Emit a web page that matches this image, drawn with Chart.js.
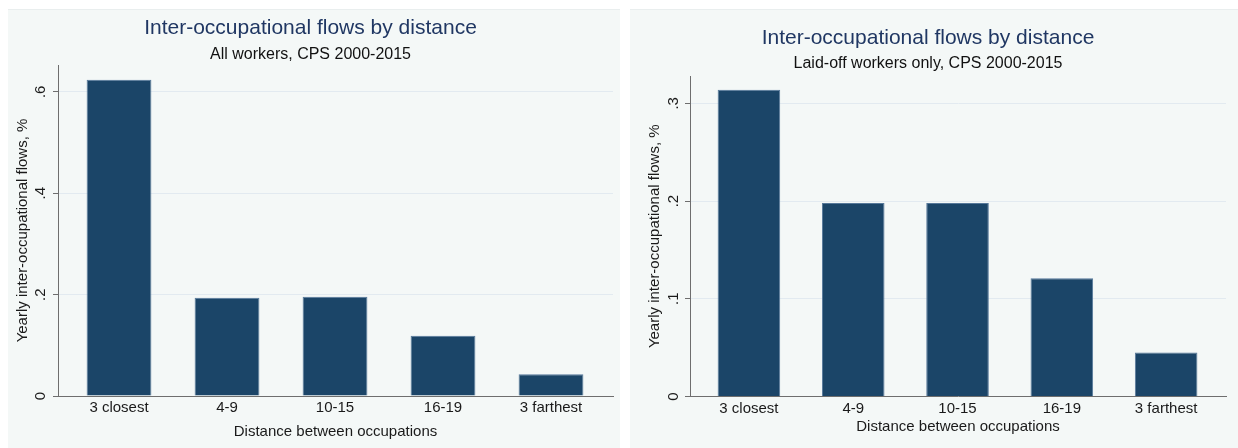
<!DOCTYPE html>
<html>
<head>
<meta charset="utf-8">
<script src="https://cdn.jsdelivr.net/npm/chart.js@4"></script>
<style>
  html, body { margin: 0; padding: 0; background: #ffffff; }
  body { width: 1238px; height: 448px; position: relative; overflow: hidden; }
  .panel { position: absolute; top: 9px; height: 439px; background: #f4f8f7; border-top: 1px solid #e9eeee; box-sizing: border-box; }
  #p1 { left: 8px; width: 612px; }
  #p2 { left: 630px; width: 608px; }
  canvas { display: block; }
</style>
</head>
<body>
<div class="panel" id="p1"><canvas id="c1"></canvas></div>
<div class="panel" id="p2"><canvas id="c2"></canvas></div>
<script>
// ---- data ----
const categories = ['3 closest', '4-9', '10-15', '16-19', '3 farthest'];
const allWorkers = [0.624, 0.194, 0.196, 0.119, 0.043];
const laidOff = [0.314, 0.198, 0.198, 0.121, 0.045];
const leftYTicks = [0, 0.2, 0.4, 0.6];
const leftYTickLabels = ['0', '.2', '.4', '.6'];
const rightYTicks = [0, 0.1, 0.2, 0.3];
const rightYTickLabels = ['0', '.1', '.2', '.3'];
const mainTitle = 'Inter-occupational flows by distance';
const leftSubtitle = 'All workers, CPS 2000-2015';
const rightSubtitle = 'Laid-off workers only, CPS 2000-2015';
const yTitle = 'Yearly inter-occupational flows, %';
const xTitle = 'Distance between occupations';

const FONT = "'Liberation Sans', Arial, Helvetica, sans-serif";
const BAR = '#1b4568';
const BAR_EDGE = '#56789a';
const GRID = '#e2eaf0';
const AXIS = '#6e6e6e';

const rotTicks = {
  id: 'rotTicks',
  afterDraw(chart, args, opts) {
    const s = chart.scales.y;
    const ctx = chart.ctx;
    ctx.save();
    ctx.font = '15px ' + FONT;
    ctx.fillStyle = '#1a1a1a';
    ctx.textAlign = 'center';
    ctx.textBaseline = 'middle';
    opts.values.forEach((v, i) => {
      const py = s.getPixelForValue(v);
      ctx.save();
      ctx.translate(opts.x, py);
      ctx.rotate(-Math.PI / 2);
      ctx.fillText(opts.labels[i], 0, 0);
      ctx.restore();
    });
    ctx.restore();
  }
};

function makeChart(id, cfg) {
  const data = categories.map((c, i) => ({ x: i, y: cfg.values[i] }));
  return new Chart(document.getElementById(id), {
    type: 'bar',
    data: {
      datasets: [{
        data: data,
        backgroundColor: BAR,
        borderColor: BAR_EDGE,
        borderWidth: 1,
        borderSkipped: 'start',
        barPercentage: 0.6,
        categoryPercentage: 1.0
      }]
    },
    plugins: [rotTicks],
    options: {
      responsive: true,
      maintainAspectRatio: false,
      animation: false,
      layout: { padding: { left: 0, right: cfg.padRight, top: 0, bottom: 0 } },
      plugins: {
        legend: { display: false },
        tooltip: { enabled: false },
        title: {
          display: true,
          text: mainTitle,
          color: '#203763',
          font: { family: FONT, size: 21, weight: 'normal' },
          padding: { top: cfg.titleTop, bottom: cfg.titleBottom }
        },
        subtitle: {
          display: true,
          text: cfg.subtitle,
          color: '#111111',
          font: { family: FONT, size: 16, weight: 'normal' },
          padding: { top: 0, bottom: cfg.subBottom }
        },
        rotTicks: { x: cfg.tickX, values: cfg.yTicks, labels: cfg.yTickLabels }
      },
      scales: {
        x: {
          type: 'linear',
          offset: false,
          min: -0.565,
          max: 4.574,
          grid: { display: false, drawTicks: false, offset: false },
          border: { display: true, color: AXIS, width: 1 },
          afterBuildTicks: (s) => { s.ticks = categories.map((c, i) => ({ value: i })); },
          afterFit: (s) => { s.height = cfg.xHeight; },
          ticks: {
            padding: 3,
            color: '#1a1a1a',
            font: { family: FONT, size: 15 },
            maxRotation: 0,
            autoSkip: false,
            callback: (v) => categories[v]
          },
          title: {
            display: true,
            text: xTitle,
            color: '#1a1a1a',
            font: { family: FONT, size: 15 },
            padding: { top: 0, bottom: cfg.xTitleBottom }
          }
        },
        y: {
          type: 'linear',
          min: 0,
          max: cfg.yMax,
          grid: { color: GRID, lineWidth: 1, drawTicks: true, tickLength: 5, tickColor: AXIS },
          border: { display: true, color: AXIS, width: 1 },
          afterBuildTicks: (s) => { s.ticks = cfg.yTicks.map(v => ({ value: v })); },
          afterFit: (s) => { s.width = cfg.yWidth; },
          ticks: { display: false },
          title: {
            display: true,
            text: yTitle,
            color: '#1a1a1a',
            font: { family: FONT, size: 15 },
            padding: { top: cfg.yTitleTop, bottom: 0 }
          }
        }
      }
    }
  });
}

makeChart('c1', {
  values: allWorkers, subtitle: leftSubtitle,
  yTicks: leftYTicks, yTickLabels: leftYTickLabels, yMax: 0.653,
  padRight: 7, titleTop: 5.4, titleBottom: 4.8, subBottom: 0.4,
  xHeight: 52, xTitleBottom: 7.3, yWidth: 50, yTitleTop: 5.7, tickX: 32.5
});
makeChart('c2', {
  values: laidOff, subtitle: rightSubtitle,
  yTicks: rightYTicks, yTickLabels: rightYTickLabels, yMax: 0.328,
  padRight: 12, titleTop: 15.4, titleBottom: 3.8, subBottom: 2.4,
  xHeight: 51.5, xTitleBottom: 12.3, yWidth: 60, yTitleTop: 16, tickX: 44
});
</script>
</body>
</html>
